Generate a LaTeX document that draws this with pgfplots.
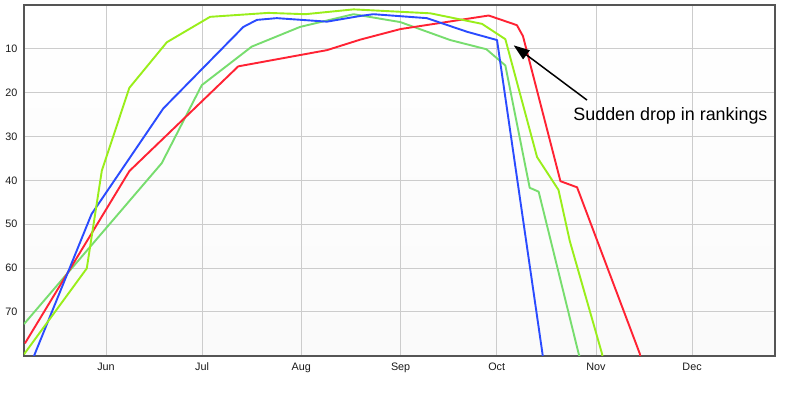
\documentclass[border=0pt]{standalone}
\usepackage{fontspec}
\setmainfont{Liberation Sans}
\usepackage{pgfplots}
\pgfplotsset{compat=1.18}
\usetikzlibrary{arrows.meta}
\definecolor{cblue}{HTML}{2A4BFF}
\definecolor{cred}{HTML}{FF2233}
\definecolor{clime}{HTML}{99EE1A}
\definecolor{clgreen}{HTML}{77DD6E}
\definecolor{gridgray}{HTML}{CCCCCC}
\definecolor{framegray}{HTML}{555555}
\begin{document}
\begin{tikzpicture}
\path[use as bounding box] (0,0) rectangle (791pt,395pt);
\begin{axis}[
  at={(24pt,39.4pt)}, anchor=south west,
  scale only axis, width=751pt, height=350.6pt,
  xmin=-25.6, xmax=208.9, ymin=0, ymax=80, y dir=reverse,
  xtick={0,30,61,92,122,153,183},
  xticklabels={Jun,Jul,Aug,Sep,Oct,Nov,Dec},
  ytick={10,20,30,40,50,60,70},
  grid=major, major grid style={draw=gridgray, line width=0.8pt},
  major tick length=0pt,
  axis line style={draw=framegray, line width=2pt},
  axis background/.style={shade, top color=white, middle color=black!6, bottom color=white!98!black},
  tick label style={font=\fontsize{10.8}{12}\selectfont, text=black!90},
  /pgf/number format/assume math mode=true,
  yticklabel style={inner sep=0pt, anchor=east, xshift=-6.5pt},
  xticklabel style={inner sep=0pt, anchor=north, yshift=-7pt},
  every axis plot/.append style={line width=1.9pt, mark=none, line join=round},
]
% light green
\addplot[clgreen] coordinates {
(-25.6,72.8) (17.4,36.1) (29.9,18.3) (45.5,9.5) (60.6,5.0) (77.3,2.1)
(91.9,3.9) (107.5,8.0) (118.8,10.1) (124.7,13.8) (132.3,41.7) (135.1,42.6) (147.6,79.6) (150,85)};
% red
\addplot[cred] coordinates {
(-25.3,77.2) (7.3,37.9) (41.3,14.0) (69.0,10.3) (79.4,7.9) (91.9,5.5)
(119.5,2.4) (128.3,4.6) (130.2,7.1) (141.9,40.2) (147.1,41.6) (166.7,79.6) (168,85)};
% blue
\addplot[cblue] coordinates {
(-25.6,85.7) (-4.5,47.7) (17.9,23.6) (42.9,5.0) (47.1,3.4) (53.3,3.0)
(69.0,3.8) (79.4,2.5) (83.5,2.1) (100.2,3.0) (112.7,6.1) (122.1,8.0) (136.3,79.6) (137,85)};
% lime
\addplot[clime] coordinates {
(-25.6,79.7) (-6.0,60.1) (-1.3,37.8) (7.3,18.9) (19.0,8.5) (32.5,2.7)
(50.7,1.8) (62.2,2.1) (77.3,1.0) (101.3,1.9) (117.4,4.3) (124.7,7.8)
(134.6,34.7) (141.3,42.2) (144.8,53.8) (154.9,79.6) (156,85)};
\draw[line width=1.5pt, -{Triangle[length=16pt,width=11pt]}] (axis cs:150.2,21.7) -- (axis cs:127.3,9.2);
\node[anchor=base west, inner sep=0pt, font=\fontsize{17.9}{20}\selectfont] at (axis cs:145.9,26.3) {Sudden drop in rankings};
\end{axis}
\end{tikzpicture}
\end{document}
